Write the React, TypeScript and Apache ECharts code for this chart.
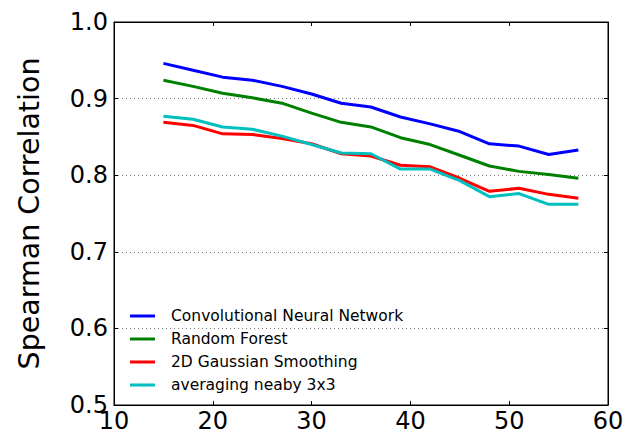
import React, { useEffect, useRef } from "react";
import * as echarts from "echarts";

const windowSizes = [15, 18, 21, 24, 27, 30, 33, 36, 39, 42, 45, 48, 51, 54, 57];
const cnnValues = [0.946, 0.937, 0.928, 0.924, 0.916, 0.906, 0.894, 0.889, 0.876, 0.867, 0.857, 0.841, 0.838, 0.827, 0.833];
const forestValues = [0.924, 0.916, 0.907, 0.901, 0.894, 0.881, 0.869, 0.863, 0.849, 0.840, 0.826, 0.812, 0.805, 0.801, 0.796];
const gaussValues = [0.869, 0.865, 0.854, 0.853, 0.848, 0.841, 0.828, 0.825, 0.813, 0.811, 0.796, 0.779, 0.783, 0.775, 0.770];
const avgValues = [0.877, 0.873, 0.863, 0.860, 0.851, 0.840, 0.829, 0.828, 0.808, 0.808, 0.793, 0.772, 0.776, 0.762, 0.762];
const seriesNames = [
  "Convolutional Neural Network",
  "Random Forest",
  "2D Gaussian Smoothing",
  "averaging neaby 3x3",
];
const seriesColors = ["#0000ff", "#008000", "#ff0000", "#00bfbf"];

export default function App() {
  const ref = useRef<HTMLDivElement>(null);
  useEffect(() => {
    if (!ref.current) return;
    const chart = echarts.init(ref.current, null, { renderer: "svg" });
    const allValues = [cnnValues, forestValues, gaussValues, avgValues];
    const font = "DejaVu Sans";
    const tickCommon = { show: true, inside: true, length: 4, lineStyle: { color: "#000", width: 1 } };
    chart.setOption({
      animation: false,
      backgroundColor: "#fff",
      textStyle: { fontFamily: font },
      grid: {
        left: 114,
        right: 30,
        top: 22,
        bottom: 31,
        show: true,
        borderColor: "#000",
        borderWidth: 1,
        backgroundColor: "transparent",
        containLabel: false,
      },
      legend: {
        orient: "vertical",
        left: 125,
        top: 303,
        itemWidth: 25,
        itemHeight: 3,
        itemGap: 7,
        icon: "rect",
        data: seriesNames,
        textStyle: { fontFamily: font, fontSize: 15.5, color: "#000", padding: [0, 0, 0, 11] },
      },
      xAxis: [
        {
          type: "value",
          min: 10,
          max: 60,
          interval: 10,
          axisLine: { show: true, lineStyle: { color: "#000" } },
          axisTick: tickCommon,
          axisLabel: { fontFamily: font, fontSize: 24, color: "#000", margin: 4 },
          splitLine: { show: false },
        },
        {
          type: "value",
          position: "top",
          min: 10,
          max: 60,
          interval: 10,
          axisLine: { show: true, lineStyle: { color: "#000" } },
          axisTick: tickCommon,
          axisLabel: { show: false },
          splitLine: { show: false },
        },
      ],
      yAxis: [
        {
          type: "value",
          name: "Spearman Correlation",
          nameLocation: "middle",
          nameGap: 70,
          nameTextStyle: { fontFamily: font, fontSize: 28.5, color: "#000" },
          min: 0.5,
          max: 1.0,
          interval: 0.1,
          axisLine: { show: true, lineStyle: { color: "#000" } },
          axisTick: tickCommon,
          axisLabel: {
            fontFamily: font,
            fontSize: 24,
            color: "#000",
            margin: 6,
            formatter: (v: number) => v.toFixed(1),
          },
          splitLine: { show: true, lineStyle: { color: "#777", type: [1, 3], width: 1 } },
        },
        {
          type: "value",
          position: "right",
          min: 0.5,
          max: 1.0,
          interval: 0.1,
          axisLine: { show: true, lineStyle: { color: "#000" } },
          axisTick: tickCommon,
          axisLabel: { show: false },
          splitLine: { show: false },
        },
      ],
      series: seriesNames.map((name, i) => ({
        name,
        type: "line",
        xAxisIndex: 0,
        yAxisIndex: 0,
        showSymbol: false,
        symbol: "none",
        color: seriesColors[i],
        lineStyle: { color: seriesColors[i], width: 3 },
        data: windowSizes.map((x, j) => [x, allValues[i][j]]),
      })),
    });
    return () => chart.dispose();
  }, []);
  return <div ref={ref} style={{ width: 638, height: 436, position: "absolute", left: 0, top: 0 }} />;
}
